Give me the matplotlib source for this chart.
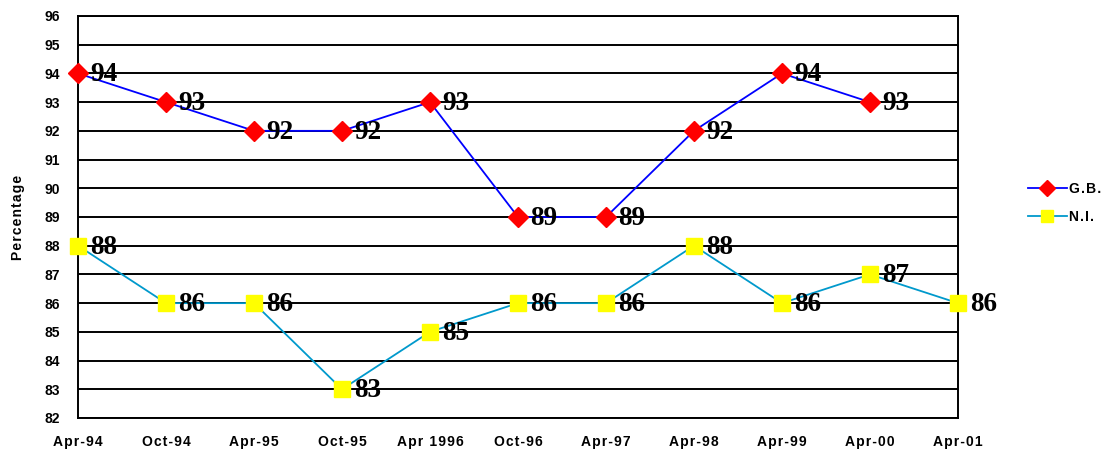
import matplotlib.pyplot as plt

dates = ['Apr-94', 'Oct-94', 'Apr-95', 'Oct-95', 'Apr 1996', 'Oct-96',
         'Apr-97', 'Apr-98', 'Apr-99', 'Apr-00', 'Apr-01']
gb = [94, 93, 92, 92, 93, 89, 89, 92, 94, 93]
ni = [88, 86, 86, 83, 85, 86, 86, 88, 86, 87, 86]

HS = '\u200a'  # hair space, to mimic the spaced-out lettering


def spaced(s):
    return HS.join(s)


fig = plt.figure(figsize=(11.08, 4.53), dpi=100)
ax = fig.add_axes([0.0704, 0.0773, 0.7942, 0.8874])

x_gb = list(range(len(gb)))
x_ni = list(range(len(ni)))

ax.plot(x_gb, gb, color='#0000FF', lw=1.3, marker='D', ms=10,
        mfc='#FF0000', mec='#FF0000', label=spaced('G.B.'), zorder=3, clip_on=False)
ax.plot(x_ni, ni, color='#0099CC', lw=1.3, marker='s', ms=11.5,
        mfc='#FFFF00', mec='#FFFF00', label=spaced('N.I.'), zorder=3, clip_on=False)

for xs, ys in [(x_gb, gb), (x_ni, ni)]:
    for x, y in zip(xs, ys):
        ax.annotate(str(y), (x, y), xytext=(9, -1), textcoords='offset points',
                    ha='left', va='center', fontsize=19.5, fontweight='bold',
                    family='Liberation Serif', zorder=4)

ax.set_xlim(0, len(dates) - 1)
ax.set_ylim(82, 96)
ax.set_yticks(range(82, 97))
ax.set_xticks(range(len(dates)))
ax.set_xticklabels([spaced(d) for d in dates])
ax.grid(axis='y', color='black', lw=1.4)
ax.set_axisbelow(True)
for s in ax.spines.values():
    s.set_linewidth(1.4)
ax.tick_params(length=0, pad=13)
for lab in ax.get_xticklabels() + ax.get_yticklabels():
    lab.set_family(['Liberation Sans', 'DejaVu Sans'])
    lab.set_fontweight('bold')
    lab.set_fontsize(10)
ax.tick_params(axis='x', pad=12)
ax.set_ylabel(spaced('Percentage'), fontsize=10, fontweight='bold',
              family=['Liberation Sans', 'DejaVu Sans'], labelpad=14)

ax.legend(loc='center left', bbox_to_anchor=(1.065, 0.535), frameon=False,
          prop={'family': ['Liberation Sans', 'DejaVu Sans'], 'weight': 'bold', 'size': 10},
          handlelength=2.8, labelspacing=1.0, handletextpad=0.2, markerscale=0.8)

plt.savefig('out.png', dpi=100)
